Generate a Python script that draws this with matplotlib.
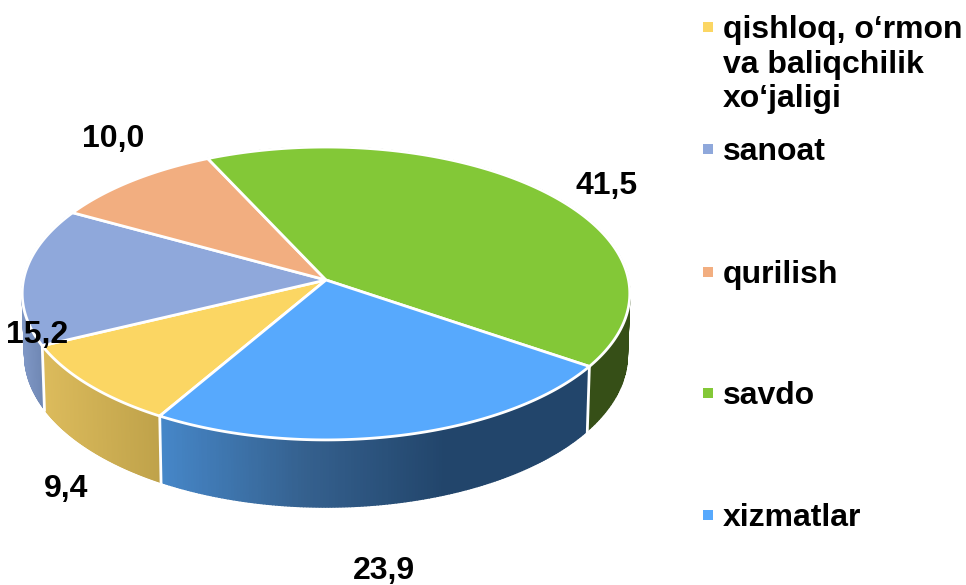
import numpy as np
from matplotlib import pyplot as plt
from matplotlib import patches
from matplotlib.colors import LinearSegmentedColormap

# 数据
names = ["qishloq, o‘rmon\nva baliqchilik\nxo‘jaligi", "sanoat", "qurilish", "savdo", "xizmatlar"]
values = [9.4, 15.2, 10.0, 41.5, 23.9]
value_labels = ["9,4", "15,2", "10,0", "41,5", "23,9"]

# 样式
top_colors = ["#fbd663", "#8fa8db", "#f2ae80", "#83c837", "#57a9fd"]
side_colors = [["#dcbb5c", "#bfa24a"],
               ["#7e96c4", "#6f87b3"],
               ["#c08a66", "#c08a66"],
               ["#364f17", "#364f17"],
               ["#4687c9", "#35618f", "#22456b", "#22456b"]]
label_pos = [(66, 489), (37, 335), (113, 139), (607, 186), (384, 571)]
legend_y = [27, 149, 272, 393, 515]

cx, cy = 326, 280
rx, ry = 302.5, 145.2
persp = -0.092
depth = 61
bottom_shrink = 0.992
start = 210.4
font = ["Liberation Sans", "DejaVu Sans"]


# 单位圆上的角度(顺时针 从顶部起) 投影到屏幕
def project(deg):
    t = np.radians(deg)
    u, v = np.sin(t), -np.cos(t)
    w = 1 + persp * v
    return cx + rx * u / w, cy + ry * v / w, depth / w


fig = plt.figure(figsize=(9.66, 5.85), dpi=100)
ax = fig.add_axes([0, 0, 1, 1])
ax.set_xlim(0, 966)
ax.set_ylim(585, 0)
ax.axis("off")

angles = start + np.cumsum([0] + values) * 3.6

# 侧面
for i in range(len(values)):
    arc = np.linspace(angles[i], angles[i + 1], 160)
    xs, ys, ds = project(arc)
    front = -np.cos(np.radians(arc)) > -0.15
    if not front.any():
        continue
    xb = cx + (xs - cx) * bottom_shrink
    cmap = LinearSegmentedColormap.from_list("side", side_colors[i])
    lo, hi = xs[front].min(), xs[front].max()
    for j in range(len(arc) - 1):
        pts = [(xs[j], ys[j]), (xs[j + 1], ys[j + 1]),
               (xb[j + 1], ys[j + 1] + ds[j + 1]), (xb[j], ys[j] + ds[j])]
        col = cmap((xs[j] - lo) / max(hi - lo, 1))
        ax.add_patch(patches.Polygon(pts, facecolor=col, edgecolor=col, lw=1.0, zorder=1))

# 侧面分隔线
for a in angles[:-1]:
    if -np.cos(np.radians(a)) > 0:
        x, y, d = project(a)
        ax.plot([x, cx + (x - cx) * bottom_shrink], [y, y + d + 1], color="white", lw=2.0, zorder=2)

# 顶面
for i in range(len(values)):
    arc = np.linspace(angles[i], angles[i + 1], 160)
    xs, ys, _ = project(arc)
    pts = [(cx, cy)] + list(zip(xs, ys))
    ax.add_patch(patches.Polygon(pts, closed=True, facecolor=top_colors[i],
                                 edgecolor="white", lw=2.0, joinstyle="round", zorder=3))

# 数值标签
for txt, (x, y) in zip(value_labels, label_pos):
    ax.text(x, y, txt, fontsize=23, fontweight="bold", family=font,
            ha="center", va="center", color="black", zorder=5)

# 图例
for i, name in enumerate(names):
    ax.scatter([708], [legend_y[i]], marker="s", s=42, color=top_colors[i], linewidths=0, zorder=5)
    y_text = legend_y[i] - 12
    ax.text(723, y_text, name, fontsize=23, fontweight="bold", family=font,
            ha="left", va="top", linespacing=1.2, color="black", zorder=5)

fig.savefig("out.png", dpi=100)
